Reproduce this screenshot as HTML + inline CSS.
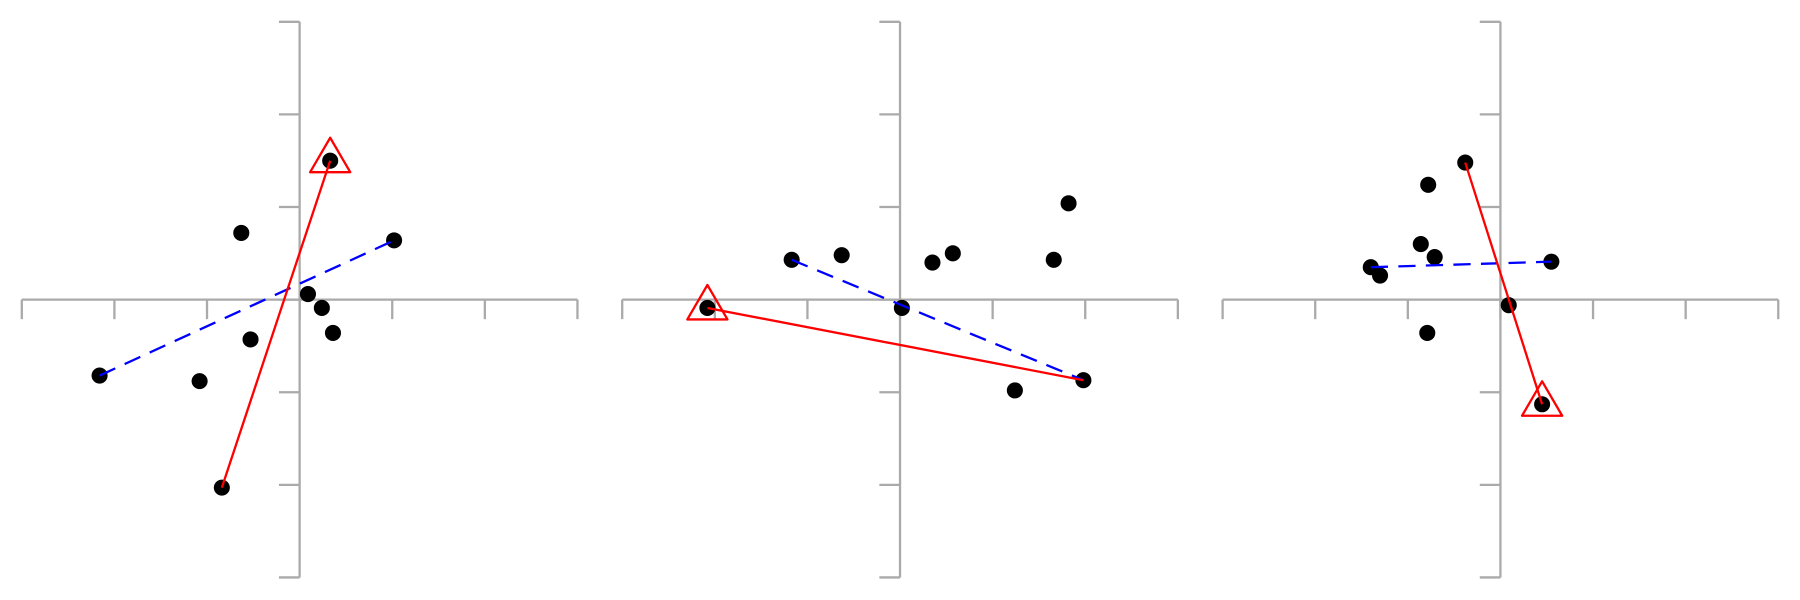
<!DOCTYPE html>
<html><head><meta charset="utf-8"><style>html,body{margin:0;padding:0;background:#fff}svg{display:block}</style></head>
<body>
<svg id="chart" width="1800" height="600"><g id="root" transform="scale(1.148)"></g></svg>
<script>
const p1x=[-2.16,-1.08,-0.63,-0.53,0.09,0.24,0.36,0.33,1.02,-0.84];
const p1y=[-0.82,-0.88,0.72,-0.43,0.06,-0.09,-0.36,1.50,0.64,-2.03];
const p2x=[-2.08,-1.17,-0.63,0.02,0.35,0.57,1.24,1.66,1.82,1.98];
const p2y=[-0.09,0.43,0.48,-0.09,0.40,0.50,-0.98,0.43,1.04,-0.87];
const p3x=[-1.40,-1.30,-0.86,-0.78,-0.71,-0.79,-0.38,0.09,0.55,0.45];
const p3y=[0.35,0.26,0.60,1.24,0.46,-0.36,1.48,-0.06,0.41,-1.13];
const red1=[9,7], blue1=[0,8];
const red2=[9,0], blue2=[1,9];
const red3=[6,9], blue3=[0,8];
const ticks=[-3,-2,-1,0,1,2,3];
const panels=[{x:p1x,y:p1y,red:red1,blue:blue1,ox:261},{x:p2x,y:p2y,red:red2,blue:blue2,ox:784},{x:p3x,y:p3y,red:red3,blue:blue3,ox:1307}];
const svg=document.getElementById('root');const NS='http://www.w3.org/2000/svg';
const U=80.67, OY=261;
function mk(t,a,p){const e=document.createElementNS(NS,t);for(const k in a)e.setAttribute(k,a[k]);(p||svg).appendChild(e);return e;}
panels.forEach((P,pi)=>{
  const sx=v=>P.ox+v*U, sy=v=>OY-v*U;
  const g=mk('g',{});
  
  
  const xa=mk('line',{x1:sx(-3),x2:sx(3),y1:OY,y2:OY,stroke:'#aaa','stroke-width':2},g);
  
  
  const ya=mk('line',{x1:P.ox,x2:P.ox,y1:sy(3),y2:sy(-3),stroke:'#aaa','stroke-width':2},g);
  
  
  ticks.forEach(t=>{
    const a=mk('line',{x1:sx(t),x2:sx(t),y1:OY,y2:OY+17,stroke:'#aaa','stroke-width':2},g);
    
    
    const b=mk('line',{x1:P.ox-18,x2:P.ox,y1:sy(t),y2:sy(t),stroke:'#aaa','stroke-width':2},g);
    
    
  });
  P.x.forEach((v,i)=>{
    const c=mk('circle',{cx:sx(v),cy:sy(P.y[i]),r:7,fill:'#000'},g);
    
    
  });
  const b0=P.blue[0],b1=P.blue[1];
  const bl=mk('line',{x1:sx(P.x[b0]),y1:sy(P.y[b0]),x2:sx(P.x[b1]),y2:sy(P.y[b1]),stroke:'#00f','stroke-width':2,'stroke-dasharray':'15,9'},g);
  
  
  const r0=P.red[0],r1=P.red[1];
  const rl=mk('line',{x1:sx(P.x[r0]),y1:sy(P.y[r0]),x2:sx(P.x[r1]),y2:sy(P.y[r1]),stroke:'#f00','stroke-width':2},g);
  
  
  const tx=sx(P.x[r1]),ty=sy(P.y[r1]);
  const tr=mk('polygon',{points:`${tx},${ty-20} ${tx+17.5},${ty+10} ${tx-17.5},${ty+10}`,fill:'none',stroke:'#f00','stroke-width':2,'stroke-linejoin':'round'},g);
  
  
});
</script>
</body></html>
